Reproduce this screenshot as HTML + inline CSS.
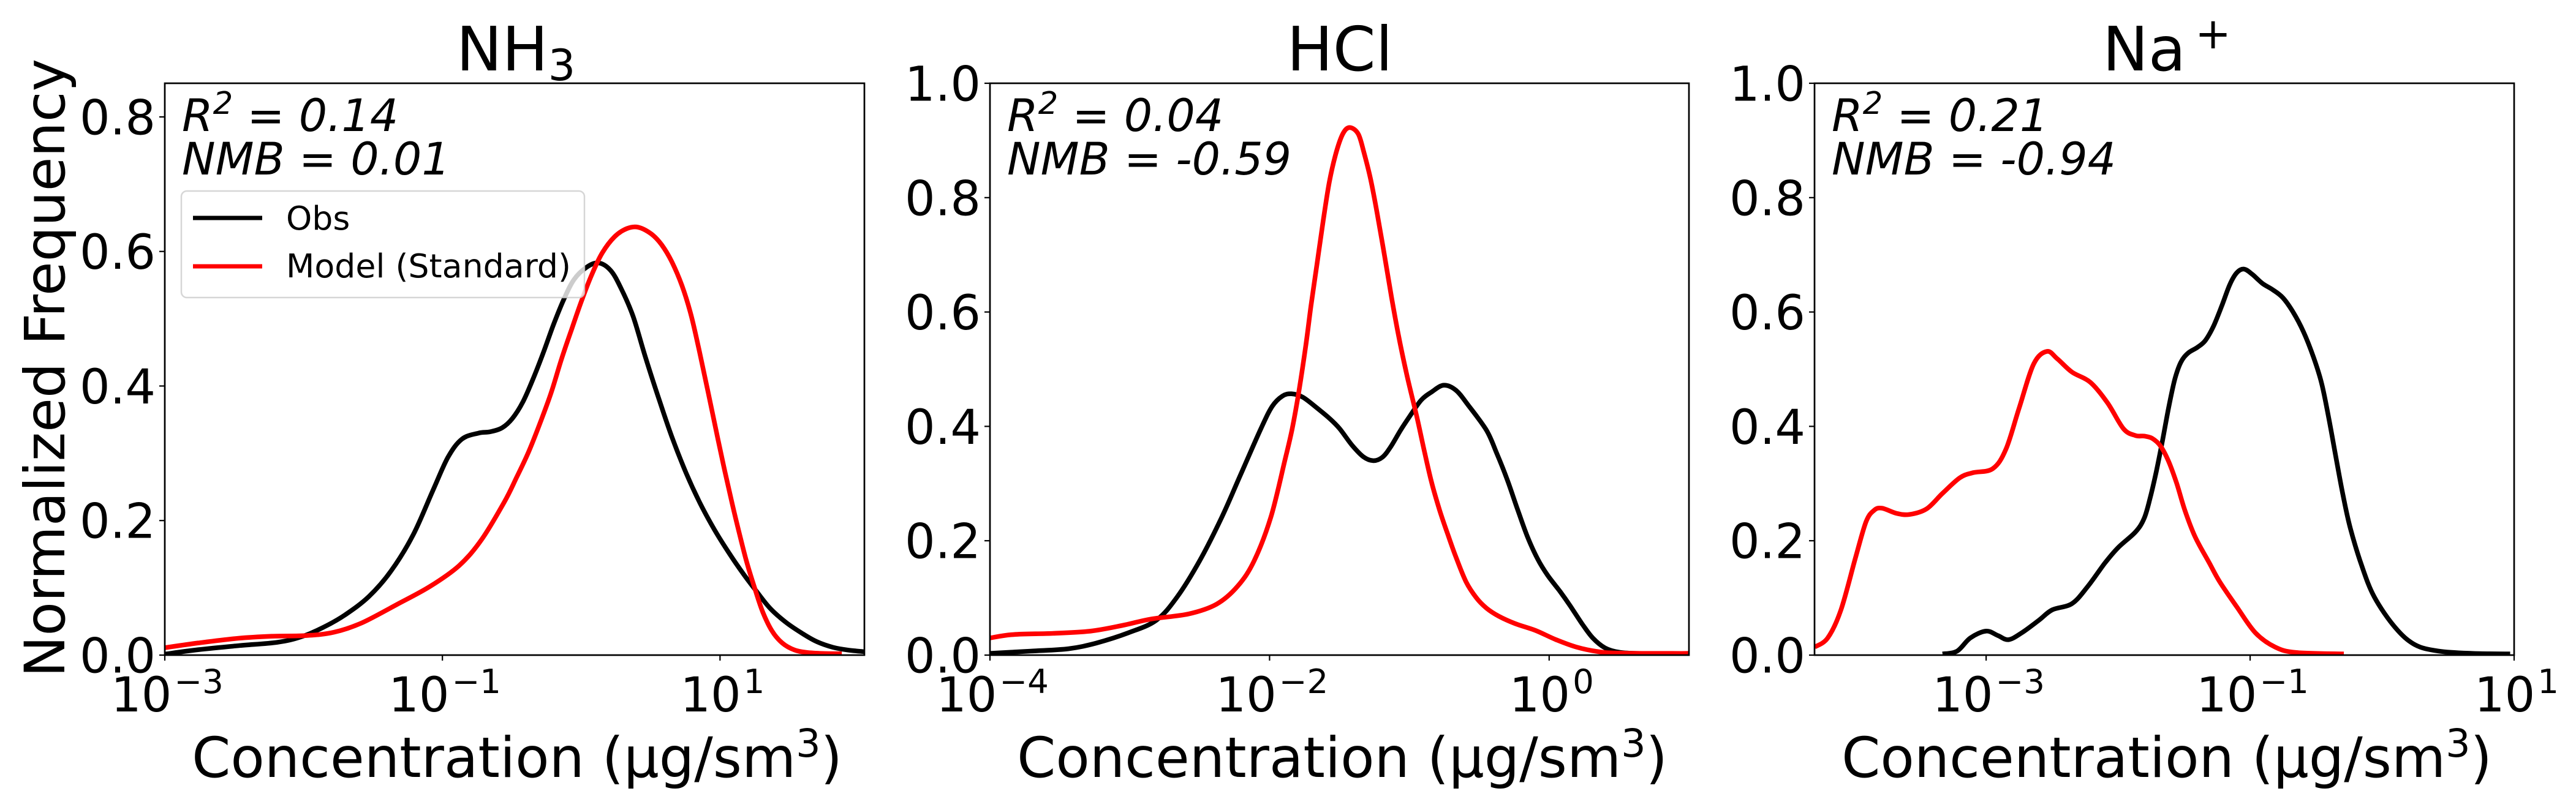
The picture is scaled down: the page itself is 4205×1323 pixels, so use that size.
<!DOCTYPE html>
<html lang="en">
<head>
<meta charset="utf-8">
<title>Concentration distributions</title>
<style>
html,body{margin:0;padding:0;background:#fff;}
svg{display:block;}
text{font-family:"DejaVu Sans","Liberation Sans",sans-serif;fill:#000;}
.title{font-size:100px;}
.big{font-size:90.6px;}
.tick{font-size:78px;}
.note{font-size:73px;font-style:italic;}
.leg{font-size:53.75px;}
</style>
</head>
<body>
<svg id="fig" xmlns="http://www.w3.org/2000/svg" width="4205" height="1323" viewBox="0 0 4205 1323">
  <rect width="4205" height="1323" fill="#fff"/>
  <defs>
    <clipPath id="clip-0"><rect x="269" y="136" width="1142" height="934"/></clipPath>
    <clipPath id="clip-1"><rect x="1616" y="136" width="1141" height="934"/></clipPath>
    <clipPath id="clip-2"><rect x="2962" y="136" width="1142" height="934"/></clipPath>
  </defs>

  <g id="panel-0"></g>
  <g id="panel-1"></g>
  <g id="panel-2"></g>

  <g>
    <rect x="296" y="312" width="658" height="174" rx="9" ry="9" fill="#fff" fill-opacity="0.8" stroke="#ccc" stroke-opacity="0.8" stroke-width="2.5"/>
    <line x1="315" y1="356" x2="428" y2="356" stroke="#000" stroke-width="7"/>
    <text class="leg" x="467" y="375">Obs</text>
    <line x1="315" y1="435" x2="428" y2="435" stroke="#f00" stroke-width="7"/>
    <text class="leg" x="467" y="453">Model (Standard)</text>
  </g>

  <text class="title" x="842" y="115" text-anchor="middle">NH<tspan font-size="70" dy="16">3</tspan></text>
  <text class="title" x="2187" y="115" text-anchor="middle">HCl</text>
  <text class="title" x="3537" y="115" text-anchor="middle">Na<tspan font-size="70" dx="15" dy="-36">+</tspan></text>

  <text class="big" transform="translate(105,601) rotate(-90)" text-anchor="middle">Normalized Frequency</text>

  <text class="big" x="844" y="1269" text-anchor="middle">Concentration (µg/sm<tspan font-size="63.4" dy="-33">3</tspan><tspan dy="33">)</tspan></text>
  <text class="big" x="2191" y="1269" text-anchor="middle">Concentration (µg/sm<tspan font-size="63.4" dy="-33">3</tspan><tspan dy="33">)</tspan></text>
  <text class="big" x="3537" y="1269" text-anchor="middle">Concentration (µg/sm<tspan font-size="63.4" dy="-33">3</tspan><tspan dy="33">)</tspan></text>

  <text class="note" x="297" y="214">R<tspan font-size="51" dy="-28">2</tspan><tspan dy="28"> = 0.14</tspan></text>
  <text class="note" x="297" y="285">NMB = 0.01</text>
  <text class="note" x="1644" y="214">R<tspan font-size="51" dy="-28">2</tspan><tspan dy="28"> = 0.04</tspan></text>
  <text class="note" x="1644" y="285">NMB = -0.59</text>
  <text class="note" x="2990" y="214">R<tspan font-size="51" dy="-28">2</tspan><tspan dy="28"> = 0.21</tspan></text>
  <text class="note" x="2990" y="285">NMB = -0.94</text>
</svg>

<script>
// All x values are log10(concentration); y values are normalized frequency.
const nh3ObsLogConc = [-3,-2.76,-2.47,-2.19,-2.02,-1.86,-1.70,-1.53,-1.37,-1.21,-1.07,-0.96,-0.86,-0.74,-0.656,-0.569,-0.495,-0.421,-0.348,-0.274,-0.2,-0.127,-0.053,0.035,0.123,0.211,0.285,0.373,0.461,0.564,0.652,0.755,0.858,0.961,1.064,1.167,1.255,1.359,1.476,1.594,1.697,1.815,1.918,2.04];
const nh3ObsFreq = [0.0015,0.008,0.014,0.019,0.027,0.041,0.060,0.087,0.125,0.179,0.244,0.294,0.321,0.330,0.332,0.338,0.352,0.376,0.41,0.449,0.491,0.528,0.558,0.576,0.583,0.572,0.546,0.504,0.444,0.378,0.325,0.271,0.225,0.186,0.152,0.121,0.097,0.070,0.0485,0.032,0.020,0.0115,0.0076,0.005];
const nh3ModelLogConc = [-3,-2.76,-2.47,-2.23,-1.98,-1.78,-1.58,-1.33,-1.09,-0.88,-0.72,-0.554,-0.466,-0.377,-0.289,-0.215,-0.142,-0.068,0.005,0.079,0.152,0.241,0.329,0.410,0.505,0.579,0.652,0.726,0.792,0.851,0.915,0.984,1.036,1.087,1.138,1.19,1.249,1.308,1.374,1.448,1.536,1.624,1.741,1.877];
const nh3ModelFreq = [0.011,0.018,0.025,0.028,0.029,0.034,0.048,0.075,0.102,0.133,0.171,0.2275,0.264,0.303,0.349,0.391,0.440,0.485,0.528,0.567,0.598,0.622,0.634,0.636,0.626,0.610,0.585,0.549,0.505,0.452,0.390,0.322,0.272,0.2255,0.182,0.140,0.100,0.064,0.036,0.018,0.0076,0.004,0.0025,0.002];

const hclObsLogConc = [-4,-3.71,-3.44,-3.24,-3.01,-2.81,-2.66,-2.5,-2.34,-2.21,-2.062,-1.981,-1.908,-1.843,-1.762,-1.66,-1.572,-1.499,-1.41,-1.33,-1.258,-1.193,-1.134,-1.061,-0.988,-0.915,-0.842,-0.754,-0.666,-0.579,-0.448,-0.375,-0.30,-0.229,-0.155,-0.082,-0.009,0.079,0.151,0.239,0.312,0.40,0.50,0.62,0.882,1];
const hclObsFreq = [0.003,0.007,0.011,0.021,0.039,0.061,0.102,0.165,0.242,0.314,0.396,0.435,0.453,0.457,0.451,0.432,0.414,0.396,0.367,0.347,0.340,0.346,0.364,0.394,0.421,0.446,0.460,0.472,0.463,0.437,0.393,0.353,0.307,0.257,0.207,0.168,0.139,0.111,0.086,0.0535,0.030,0.0125,0.005,0.003,0.0025,0.002];
const hclModelLogConc = [-4,-3.83,-3.55,-3.28,-3.05,-2.85,-2.58,-2.38,-2.23,-2.11,-1.99,-1.89,-1.838,-1.791,-1.74,-1.704,-1.66,-1.616,-1.572,-1.521,-1.473,-1.425,-1.365,-1.324,-1.277,-1.229,-1.178,-1.127,-1.076,-1.017,-0.944,-0.893,-0.842,-0.783,-0.725,-0.666,-0.594,-0.52,-0.448,-0.36,-0.243,-0.097,0.049,0.195,0.341,0.487,0.882,1];
const hclModelFreq = [0.030,0.036,0.038,0.042,0.052,0.063,0.072,0.089,0.120,0.165,0.242,0.341,0.396,0.460,0.5425,0.610,0.685,0.760,0.828,0.881,0.913,0.9226,0.911,0.878,0.832,0.771,0.699,0.625,0.557,0.489,0.414,0.357,0.303,0.253,0.211,0.171,0.128,0.100,0.082,0.068,0.055,0.043,0.027,0.014,0.0064,0.0035,0.003,0.003];

const naObsLogConc = [-3.33,-3.22,-3.12,-3,-2.91,-2.83,-2.73,-2.60,-2.50,-2.35,-2.23,-2.10,-2.0,-1.87,-1.803,-1.757,-1.711,-1.664,-1.618,-1.571,-1.525,-1.471,-1.401,-1.34,-1.278,-1.216,-1.154,-1.1,-1.046,-0.984,-0.907,-0.829,-0.752,-0.675,-0.597,-0.52,-0.458,-0.404,-0.35,-0.295,-0.241,-0.157,-0.06,0.10,0.25,0.43,0.68,0.97];
const naObsFreq = [0.002,0.007,0.030,0.042,0.034,0.027,0.039,0.061,0.079,0.090,0.120,0.161,0.188,0.215,0.239,0.275,0.321,0.375,0.432,0.482,0.512,0.528,0.538,0.550,0.575,0.610,0.648,0.669,0.675,0.666,0.650,0.639,0.625,0.600,0.566,0.521,0.475,0.414,0.346,0.278,0.222,0.158,0.102,0.048,0.018,0.007,0.003,0.002];
const naModelLogConc = [-4.30,-4.20,-4.10,-3.99,-3.91,-3.85,-3.79,-3.68,-3.58,-3.45,-3.33,-3.20,-3.10,-2.95,-2.85,-2.75,-2.64,-2.54,-2.46,-2.35,-2.21,-2.08,-1.96,-1.87,-1.803,-1.742,-1.68,-1.618,-1.556,-1.494,-1.417,-1.309,-1.23,-1.10,-0.96,-0.81,-0.65,-0.29];
const naModelFreq = [0.014,0.030,0.079,0.170,0.233,0.253,0.257,0.248,0.246,0.256,0.283,0.310,0.319,0.326,0.360,0.432,0.509,0.531,0.518,0.495,0.477,0.441,0.396,0.384,0.383,0.379,0.366,0.339,0.300,0.253,0.207,0.161,0.128,0.084,0.039,0.014,0.0045,0.002];

const nh3XTickExponents = [-3,-1,1];
const hclXTickExponents = [-4,-2,0];
const naXTickExponents = [-3,-1,1];
const nh3YTicks = [0,0.2,0.4,0.6,0.8];
const hclYTicks = [0,0.2,0.4,0.6,0.8,1.0];
const naYTicks = [0,0.2,0.4,0.6,0.8,1.0];

const NS = 'http://www.w3.org/2000/svg';
const TOP = 136, BOTTOM = 1070;

function svgEl(tag, attrs) {
  const el = document.createElementNS(NS, tag);
  for (const k in attrs) el.setAttribute(k, attrs[k]);
  return el;
}
function makeXScale(left, right, logMin, logMax) {
  return v => left + (v - logMin) / (logMax - logMin) * (right - left);
}
function makeYScale(yMax) {
  return v => BOTTOM - v / yMax * (BOTTOM - TOP);
}
// Catmull-Rom spline through the data points, expressed as cubic Beziers.
function curvePath(xs, ys, xScale, yScale) {
  const p = xs.map((x, i) => [xScale(x), yScale(ys[i])]);
  let d = 'M' + p[0][0].toFixed(1) + ' ' + p[0][1].toFixed(1);
  for (let i = 0; i < p.length - 1; i++) {
    const a = p[Math.max(0, i - 1)], b = p[i], c = p[i + 1], e = p[Math.min(p.length - 1, i + 2)];
    const c1x = b[0] + (c[0] - a[0]) / 6, c1y = b[1] + (c[1] - a[1]) / 6;
    const c2x = c[0] - (e[0] - b[0]) / 6, c2y = c[1] - (e[1] - b[1]) / 6;
    d += 'C' + c1x.toFixed(1) + ' ' + c1y.toFixed(1) + ' ' + c2x.toFixed(1) + ' ' + c2y.toFixed(1) + ' ' + c[0].toFixed(1) + ' ' + c[1].toFixed(1);
  }
  return d;
}

function drawPanel(index, key, left, right, logMin, logMax, yMax, xTicks, yTicks, obsX, obsY, modelX, modelY) {
  const g = document.getElementById('panel-' + index);
  const xScale = makeXScale(left, right, logMin, logMax);
  const yScale = makeYScale(yMax);

  const obs = svgEl('path', {d: curvePath(obsX, obsY, xScale, yScale), fill: 'none', stroke: '#000', 'stroke-width': 7.6, 'stroke-linejoin': 'round', 'clip-path': 'url(#clip-' + index + ')'});
  
  
  g.appendChild(obs);

  const model = svgEl('path', {d: curvePath(modelX, modelY, xScale, yScale), fill: 'none', stroke: '#f00', 'stroke-width': 7.6, 'stroke-linejoin': 'round', 'clip-path': 'url(#clip-' + index + ')'});
  
  
  g.appendChild(model);

  const frame = svgEl('rect', {x: left, y: TOP, width: right - left, height: BOTTOM - TOP, fill: 'none', stroke: '#000', 'stroke-width': 2.7});
  
  
  g.appendChild(frame);

  xTicks.forEach(exp => {
    const x = xScale(exp);
    const tick = svgEl('line', {x1: x, x2: x, y1: BOTTOM, y2: BOTTOM + 9, stroke: '#000', 'stroke-width': 2.2});
    
    
    g.appendChild(tick);

    const label = svgEl('text', {class: 'tick', x: x + 4, y: 1162, 'text-anchor': 'middle'});
    
    
    label.appendChild(document.createTextNode('10'));
    const sup = svgEl('tspan', {'font-size': 54.6, dy: -30, dx: 4});
    sup.textContent = String(exp).replace('-', '\u2212');
    label.appendChild(sup);
    g.appendChild(label);
  });

  yTicks.forEach(v => {
    const y = yScale(v);
    const tick = svgEl('line', {x1: left - 9, x2: left, y1: y, y2: y, stroke: '#000', 'stroke-width': 2.2});
    
    
    g.appendChild(tick);

    const label = svgEl('text', {class: 'tick', x: left - 15, y: y + 28.5, 'text-anchor': 'end'});
    
    
    label.textContent = v.toFixed(1);
    g.appendChild(label);
  });
}

drawPanel(0, 'nh3', 269, 1411, -3, 2.04, 0.85, nh3XTickExponents, nh3YTicks, nh3ObsLogConc, nh3ObsFreq, nh3ModelLogConc, nh3ModelFreq);
drawPanel(1, 'hcl', 1616, 2757, -4, 1, 1.0, hclXTickExponents, hclYTicks, hclObsLogConc, hclObsFreq, hclModelLogConc, hclModelFreq);
drawPanel(2, 'na', 2962, 4104, -4.3, 1, 1.0, naXTickExponents, naYTicks, naObsLogConc, naObsFreq, naModelLogConc, naModelFreq);
</script>
</body>
</html>
